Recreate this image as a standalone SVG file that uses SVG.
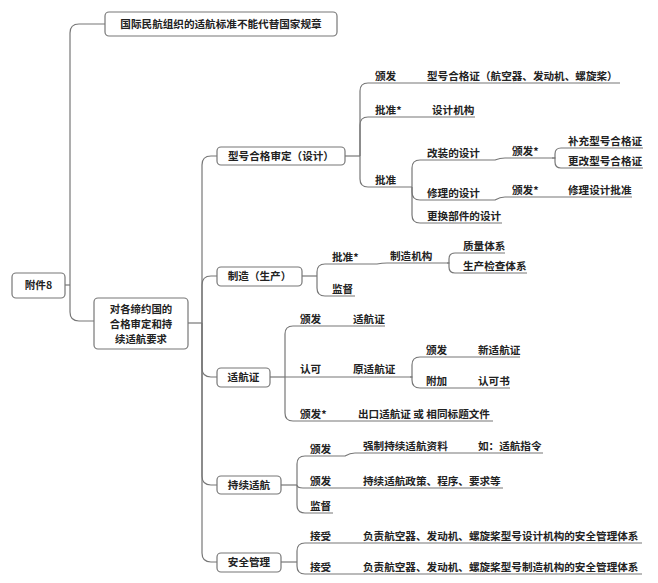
<svg xmlns="http://www.w3.org/2000/svg" width="658" height="583" viewBox="0 0 658 583">
<style>
text{font-family:"Noto Sans CJK SC","Noto Sans",sans-serif;font-size:10.6px;font-weight:bold;fill:#222}
.box{fill:#fff;stroke:#777;stroke-width:1.2}
.c path{fill:none;stroke:#777;stroke-width:1.2}
.m{text-anchor:middle}
.sm{font-size:10.4px}
</style>
<rect width="658" height="583" fill="#fff"/>
<g class="c" id="connectors">
<path d="M65 285 H70"/>
<path d="M70 285 V33 Q70 24 79 24 H105"/>
<path d="M70 285 V312 Q70 321 79 321 H94"/>
<path d="M188 323 H202"/>
<path d="M202 323 V165 Q202 156 211 156 H217"/>
<path d="M202 323 V285 Q202 276 211 276 H217"/>
<path d="M202 323 V368 Q202 377 211 377 H217"/>
<path d="M202 323 V476 Q202 485 211 485 H217"/>
<path d="M202 323 V553 Q202 562 211 562 H217"/>
<path d="M345 156 H360"/>
<path d="M360 156 V91 Q360 83 368 83 H620"/>
<path d="M360 156 V125 Q360 117 368 117 H475"/>
<path d="M360 156 V179 Q360 187 368 187 H412"/>
<path d="M412 187 V168 Q412 160 420 160 H495 Q500 158 505 158 H552"/>
<path d="M412 187 V192 Q412 200 420 200 H495 Q500 197 505 197 H632"/>
<path d="M412 187 V215 Q412 223 420 223 H502"/>
<path d="M552 158 H555 V154 Q555 148 561 148 H643"/>
<path d="M552 158 H555 V162 Q555 168 561 168 H643"/>
<path d="M302 276 H317"/>
<path d="M317 276 V272 Q317 264 325 264 H377 Q382 263 387 263 H447"/>
<path d="M317 276 V288 Q317 296 325 296 H355"/>
<path d="M447 263 H449 V259 Q449 253 455 253 H505"/>
<path d="M447 263 H449 V267 Q449 273 455 273 H527"/>
<path d="M270 377 H285"/>
<path d="M285 377 V334 Q285 326 293 326 H385"/>
<path d="M285 377 H410"/>
<path d="M285 377 V413 Q285 421 293 421 H493"/>
<path d="M410 377 H412 V365 Q412 357 420 357 H520"/>
<path d="M410 377 H412 V380 Q412 388 420 388 H510"/>
<path d="M281 485 H297"/>
<path d="M297 485 V464 Q297 456 305 456 H345 Q350 453 355 453 H543"/>
<path d="M297 485 Q297 488 303 488 H503"/>
<path d="M297 485 V505 Q297 513 305 513 H333"/>
<path d="M281 562 H297"/>
<path d="M297 562 V551 Q297 543 305 543 H642"/>
<path d="M297 562 V566 Q297 574 305 574 H642"/>
</g>
<g id="root"><rect class="box" x="12" y="273" width="53" height="25" rx="4"/><text class="m" x="38.5" y="289">附件8</text></g>
<g id="n-icao"><rect class="box" x="105" y="12" width="232" height="24" rx="4"/><text class="m" x="221" y="28">国际民航组织的适航标准不能代替国家规章</text></g>
<g id="n-req"><rect class="box" x="94" y="298" width="94" height="51" rx="4"/><text class="m sm" x="141" y="313">对各缔约国的</text><text class="m sm" x="141" y="328">合格审定和持</text><text class="m sm" x="141" y="343">续适航要求</text></g>
<g id="n-tc"><rect class="box" x="217" y="147" width="128" height="18" rx="4"/><text class="m" x="281" y="160">型号合格审定（设计）</text></g>
<g id="n-mfg"><rect class="box" x="217" y="267" width="85" height="19" rx="4"/><text class="m" x="259.5" y="280">制造（生产）</text></g>
<g id="n-cofa"><rect class="box" x="217" y="368" width="53" height="19" rx="4"/><text class="m" x="243.5" y="381">适航证</text></g>
<g id="n-caw"><rect class="box" x="217" y="476" width="64" height="18" rx="4"/><text class="m" x="249" y="489">持续适航</text></g>
<g id="n-sms"><rect class="box" x="217" y="553" width="64" height="19" rx="4"/><text class="m" x="249" y="566">安全管理</text></g>
<g id="labels">
<text x="375" y="80">颁发</text><text x="427" y="80">型号合格证（航空器、发动机、螺旋桨）</text>
<text x="375" y="114">批准*</text><text x="432" y="114">设计机构</text>
<text x="375" y="184">批准</text>
<text x="427" y="157">改装的设计</text><text x="512" y="155">颁发*</text>
<text x="568" y="145">补充型号合格证</text><text x="568" y="165">更改型号合格证</text>
<text x="427" y="197">修理的设计</text><text x="512" y="194">颁发*</text><text x="568" y="194">修理设计批准</text>
<text x="427" y="220">更换部件的设计</text>
<text x="332" y="261">批准*</text><text x="390" y="260">制造机构</text>
<text x="463" y="250">质量体系</text><text x="463" y="270">生产检查体系</text>
<text x="332" y="293">监督</text>
<text x="300" y="323">颁发</text><text x="353" y="323">适航证</text>
<text x="300" y="373">认可</text><text x="353" y="373">原适航证</text>
<text x="426" y="354">颁发</text><text x="478" y="354">新适航证</text>
<text x="426" y="385">附加</text><text x="478" y="385">认可书</text>
<text x="300" y="418">颁发*</text><text x="358" y="418">出口适航证 或 相同标题文件</text>
<text x="310" y="453">颁发</text><text x="363" y="450">强制持续适航资料</text><text x="478" y="450">如：适航指令</text>
<text x="310" y="485">颁发</text><text x="363" y="485">持续适航政策、程序、要求等</text>
<text x="310" y="510">监督</text>
<text x="310" y="540">接受</text><text x="363" y="540">负责航空器、发动机、螺旋桨型号设计机构的安全管理体系</text>
<text x="310" y="571">接受</text><text x="363" y="571">负责航空器、发动机、螺旋桨型号制造机构的安全管理体系</text>
</g>
</svg>
